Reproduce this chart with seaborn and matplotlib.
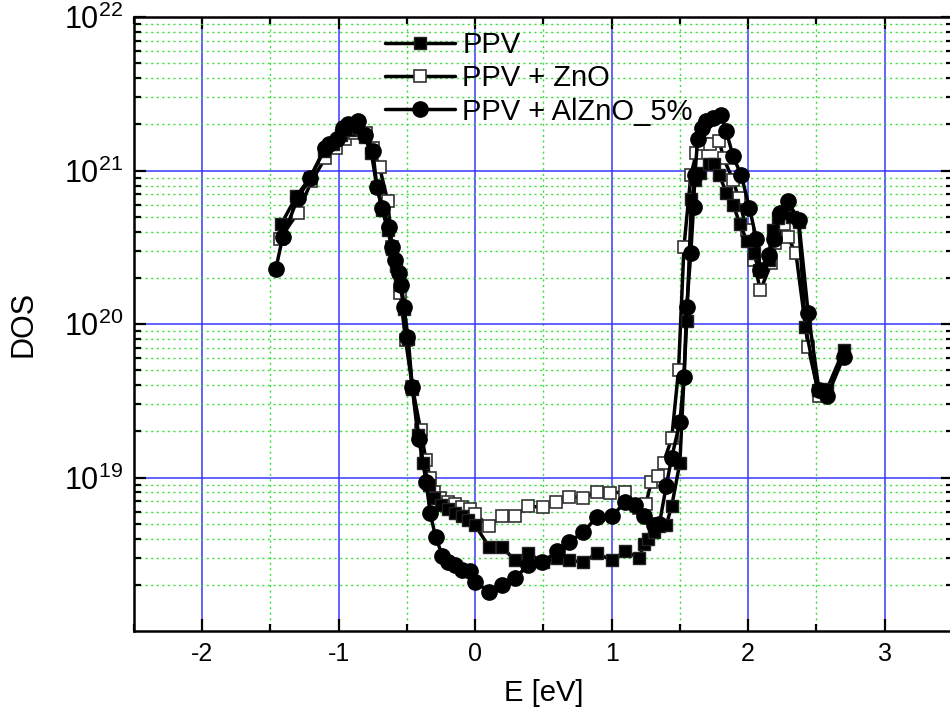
import numpy as np
import matplotlib
matplotlib.use('Agg')
import matplotlib.pyplot as plt
import seaborn as sns
from matplotlib.ticker import FixedLocator, LogLocator, FuncFormatter, MultipleLocator, NullFormatter

# ---------------- data ----------------
ppv_x = [-1.42, -1.31, -1.21, -1.11, -1.04, -0.98, -0.92, -0.86, -0.81, -0.76, -0.72,
         -0.68, -0.64, -0.61, -0.58, -0.55, -0.52, -0.49, -0.46, -0.42, -0.38, -0.34,
         -0.30, -0.25, -0.20, -0.15, -0.10, -0.05, 0.00, 0.10, 0.20, 0.29, 0.39, 0.50,
         0.60, 0.69, 0.79, 0.89, 1.00, 1.10, 1.20, 1.24, 1.27, 1.31, 1.35, 1.40, 1.44,
         1.50, 1.55, 1.585, 1.61, 1.65, 1.71, 1.75, 1.79, 1.84, 1.89, 1.94, 1.99, 2.04,
         2.08, 2.15, 2.18, 2.22, 2.27, 2.32, 2.37, 2.42, 2.51, 2.58, 2.70]
ppv_y = [4.5e20, 6.8e20, 9.0e20, 1.35e21, 1.5e21, 1.7e21, 1.85e21, 1.9e21, 1.65e21, 1.3e21, 7.8e20,
         5.5e20, 4.1e20, 3.1e20, 2.4e20, 1.8e20, 1.25e20, 8.0e19, 3.8e19, 1.9e19, 1.25e19, 9.0e18,
         7.3e18, 6.6e18, 6.2e18, 5.9e18, 5.6e18, 5.3e18, 4.9e18, 3.55e18, 3.5e18, 2.9e18, 3.2e18, 2.8e18,
         3.0e18, 2.9e18, 2.8e18, 3.2e18, 2.9e18, 3.3e18, 3.0e18, 3.7e18, 4.0e18, 4.4e18, 4.8e18, 4.9e18, 6.5e18,
         1.25e19, 1.05e20, 6.5e20, 8.7e20, 9.6e20, 1.1e21, 1.1e21, 9.3e20, 7.2e20, 6.0e20, 4.5e20, 3.5e20, 2.9e20,
         2.25e20, 2.6e20, 4.1e20, 4.9e20, 5.4e20, 5.0e20, 4.6e20, 9.6e19, 3.7e19, 3.8e19, 6.8e19]

zno_x = [-1.43, -1.30, -1.20, -1.10, -1.02, -0.95, -0.88, -0.80, -0.75, -0.70, -0.64,
         -0.61, -0.55, -0.51, -0.46, -0.40, -0.36, -0.33, -0.30, -0.26, -0.20, -0.15,
         -0.10, -0.04, 0.00, 0.10, 0.20, 0.29, 0.39, 0.50, 0.59, 0.69, 0.79, 0.89, 0.99,
         1.10, 1.20, 1.25, 1.29, 1.34, 1.38, 1.44, 1.49, 1.53, 1.58, 1.62, 1.66, 1.72,
         1.79, 1.82, 1.89, 1.93, 1.99, 2.04, 2.09, 2.17, 2.20, 2.26, 2.29, 2.35, 2.44, 2.52]
zno_y = [3.6e20, 5.3e20, 8.5e20, 1.2e21, 1.4e21, 1.6e21, 1.75e21, 1.75e21, 1.4e21, 1.05e21, 6.3e20,
         3.2e20, 1.6e20, 7.9e19, 3.9e19, 2.05e19, 1.3e19, 1.0e19, 8.0e18, 7.4e18, 6.9e18, 6.7e18,
         6.4e18, 6.2e18, 5.8e18, 4.8e18, 5.6e18, 5.6e18, 6.5e18, 6.4e18, 6.9e18, 7.5e18, 7.4e18, 8.0e18, 7.9e18,
         8.1e18, 6.3e18, 6.7e18, 9.3e18, 1.02e19, 1.25e19, 1.8e19, 5.0e19, 3.2e20, 9.3e20, 1.3e21, 1.5e21, 1.5e21,
         1.55e21, 1.2e21, 8.7e20, 6.6e20, 4.1e20, 2.6e20, 1.66e20, 2.5e20, 3.4e20, 4.5e20, 3.7e20, 2.9e20, 7.1e19, 3.4e19]

alzno_x = [-1.46, -1.41, -1.30, -1.21, -1.10, -1.07, -1.01, -0.97, -0.93, -0.86, -0.81,
           -0.75, -0.72, -0.68, -0.63, -0.61, -0.59, -0.56, -0.54, -0.52, -0.50, -0.46,
           -0.41, -0.36, -0.33, -0.29, -0.24, -0.20, -0.15, -0.10, -0.04, 0.00, 0.10, 0.20,
           0.29, 0.39, 0.49, 0.60, 0.69, 0.79, 0.89, 1.00, 1.10, 1.17, 1.24, 1.31, 1.35,
           1.40, 1.44, 1.50, 1.53, 1.55, 1.58, 1.60, 1.61, 1.63, 1.66, 1.69, 1.74, 1.80,
           1.84, 1.89, 1.95, 2.01, 2.06, 2.09, 2.15, 2.19, 2.23, 2.29, 2.37, 2.44, 2.52,
           2.58, 2.70]
alzno_y = [2.3e20, 3.7e20, 6.6e20, 8.9e20, 1.4e21, 1.5e21, 1.6e21, 1.9e21, 2.0e21, 2.1e21, 1.7e21,
           1.35e21, 7.8e20, 5.7e20, 4.3e20, 3.2e20, 2.6e20, 2.15e20, 1.8e20, 1.3e20, 8.3e19, 3.9e19,
           1.77e19, 9.4e18, 5.9e18, 4.1e18, 3.1e18, 2.8e18, 2.7e18, 2.5e18, 2.45e18, 2.1e18, 1.8e18, 2.0e18,
           2.2e18, 2.7e18, 2.8e18, 3.3e18, 3.8e18, 4.4e18, 5.5e18, 5.6e18, 6.9e18, 6.6e18, 5.6e18, 4.9e18, 5.0e18,
           8.8e18, 1.35e19, 2.3e19, 4.5e19, 1.3e20, 2.9e20, 5.8e20, 9.3e20, 1.6e21, 1.9e21, 2.1e21, 2.2e21, 2.3e21,
           1.8e21, 1.24e21, 9.3e20, 5.7e20, 3.6e20, 2.25e20, 2.8e20, 3.6e20, 5.3e20, 6.3e20, 4.8e20, 1.18e20, 3.7e19,
           3.4e19, 6.1e19]

labels = ['PPV', 'PPV + ZnO', 'PPV + AlZnO_5%']
x_ticks = [-2, -1, 0, 1, 2, 3]
y_ticks = [1e19, 1e20, 1e21, 1e22]

# ---------------- style ----------------
sns.set_style('ticks')
plt.rcParams['font.family'] = ['Liberation Sans', 'DejaVu Sans']
plt.rcParams['mathtext.fontset'] = 'custom'
plt.rcParams['mathtext.rm'] = 'Liberation Sans'
plt.rcParams['mathtext.it'] = 'Liberation Sans:italic'
plt.rcParams['mathtext.bf'] = 'Liberation Sans:bold'
plt.rcParams['axes.unicode_minus'] = False
for k in ['text.color', 'axes.labelcolor', 'xtick.color', 'ytick.color', 'axes.edgecolor']:
    plt.rcParams[k] = 'black'

fig = plt.figure(figsize=(9.5, 7.17), dpi=100)
fig.patch.set_facecolor('white')
ax = fig.add_axes([0.141, 0.120, 0.862, 0.856])
ax.set_facecolor('white')

common = dict(ax=ax, color='black', linewidth=2.5, sort=False, estimator=None)
sns.lineplot(x=ppv_x, y=ppv_y, marker='s', markersize=9, markerfacecolor='black',
             markeredgecolor='#222222', markeredgewidth=1.0, label=labels[0], zorder=3, **common)
sns.lineplot(x=zno_x, y=zno_y, marker='s', markersize=9, markerfacecolor='white',
             markeredgecolor='#333333', markeredgewidth=1.2, label=labels[1], zorder=2, **common)
sns.lineplot(x=alzno_x, y=alzno_y, marker='o', markersize=11, markerfacecolor='black',
             markeredgecolor='black', markeredgewidth=1.0, label=labels[2], zorder=4, **common)

ax.set_yscale('log')
ax.set_xlim(-2.5, 3.5)
ax.set_ylim(1e18, 1e22)

ax.xaxis.set_major_locator(FixedLocator(x_ticks))
ax.xaxis.set_minor_locator(MultipleLocator(0.5))
ax.yaxis.set_major_locator(FixedLocator(y_ticks))
ax.yaxis.set_minor_locator(LogLocator(base=10, subs=np.arange(2, 10)))
ax.yaxis.set_minor_formatter(NullFormatter())
ax.yaxis.set_major_formatter(FuncFormatter(lambda v, p: r'$10^{%d}$' % int(round(np.log10(v)))))
ax.xaxis.set_major_formatter(FuncFormatter(lambda v, p: '%d' % int(round(v))))

ax.set_axisbelow(True)
ax.grid(which='major', color='#3333ff', linewidth=1.2, alpha=0.9)
ax.grid(which='minor', color='#22dd22', linewidth=1.0, linestyle=(0, (1.5, 2.5)), alpha=0.9)

ax.tick_params(which='both', direction='in', top=True, right=True, width=1.6, color='black')
ax.tick_params(which='major', length=8.5)
ax.tick_params(which='minor', length=5)
ax.tick_params(axis='x', which='major', labelsize=18, pad=8, labelcolor='black')
ax.tick_params(axis='y', which='major', labelsize=22, pad=8, labelcolor='black')

for s in ax.spines.values():
    s.set_linewidth(1.8)
    s.set_color('black')

ax.set_xlabel('E [eV]', fontsize=21, labelpad=9, color='black')
ax.set_ylabel('DOS', fontsize=22, labelpad=18, color='black')

leg = ax.legend(loc='upper left', bbox_to_anchor=(385 / 950, 1 - 31 / 717),
                bbox_transform=fig.transFigure, frameon=False, fontsize=21,
                handlelength=2.4, handletextpad=0.25, labelspacing=0.18,
                borderpad=0, borderaxespad=0)
for t in leg.get_texts():
    t.set_color('black')

fig.savefig('out.png', dpi=100, facecolor='white')
